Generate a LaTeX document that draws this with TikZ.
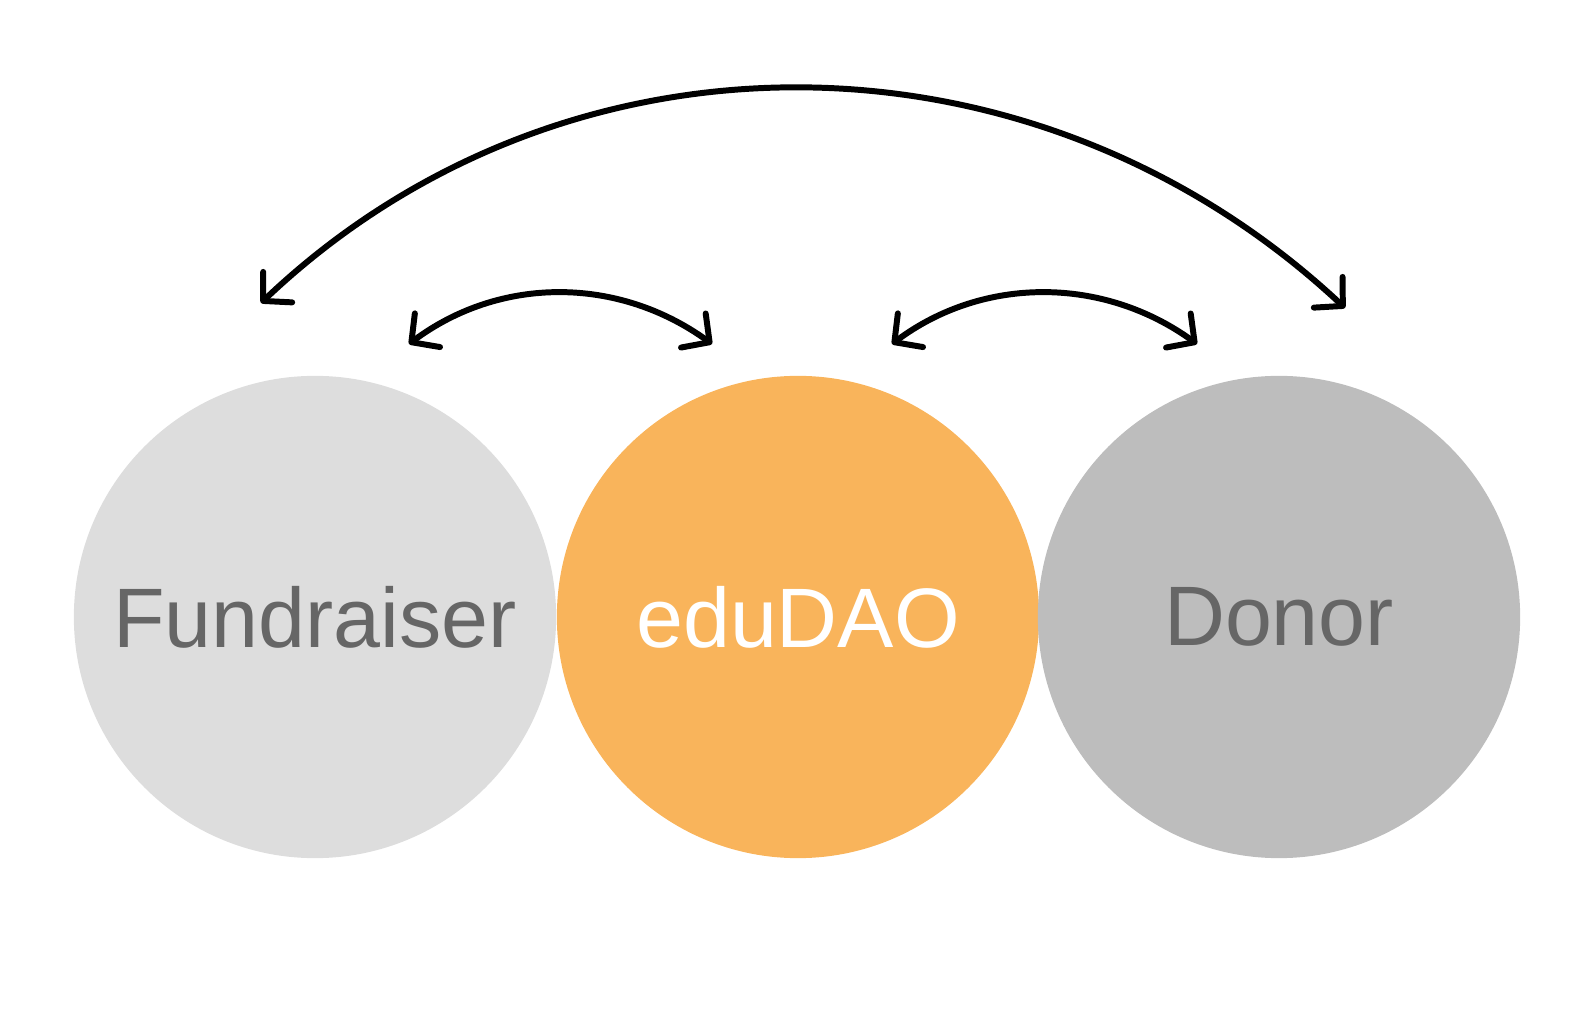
\documentclass[tikz,border=0pt]{standalone}
\usepackage{fontspec}
\setmainfont{Liberation Sans}
\usetikzlibrary{arrows.meta,positioning}
\definecolor{fundgray}{HTML}{DDDDDD}
\definecolor{daoorange}{HTML}{F9B45B}
\definecolor{donorgray}{HTML}{BDBDBD}
\definecolor{textgray}{HTML}{666666}

\begin{document}
\begin{tikzpicture}
[x=0.01cm,y=-0.01cm,>={Straight Barb[length=2mm,width=4.2mm,round]},
party/.style = {circle, minimum size = 4.82cm, inner sep = 0pt, text = textgray, font = \fontsize{24}{28}\selectfont},
flow/.style = {<->, line width = 1.7pt, line cap = round},]
\useasboundingbox (0,0) rectangle (1594,1010);
\node (fund) at (315,617)[party,fill = fundgray] {Fundraiser};
\node (dao) at (798,617)[party,fill = daoorange,text = white] {eduDAO};
\node (donor) at (1279,617)[party,fill = donorgray] {Donor};
\coordinate (fundFar) at (261,303);
\coordinate (donorFar) at (1345,308);
\coordinate (fundNear) at (409,344);
\coordinate (daoLeft) at (712,344);
\coordinate (daoRight) at (892,344);
\coordinate (donorNear) at (1197,344);
\draw[flow] (fundFar) .. controls (565,14) and (1035,18) .. (donorFar);
\draw[flow] (fundNear) .. controls (500,276) and (618,276) .. (daoLeft);
\draw[flow] (daoRight) .. controls (983,276) and (1103,276) .. (donorNear);
\end{tikzpicture}
\end{document}
